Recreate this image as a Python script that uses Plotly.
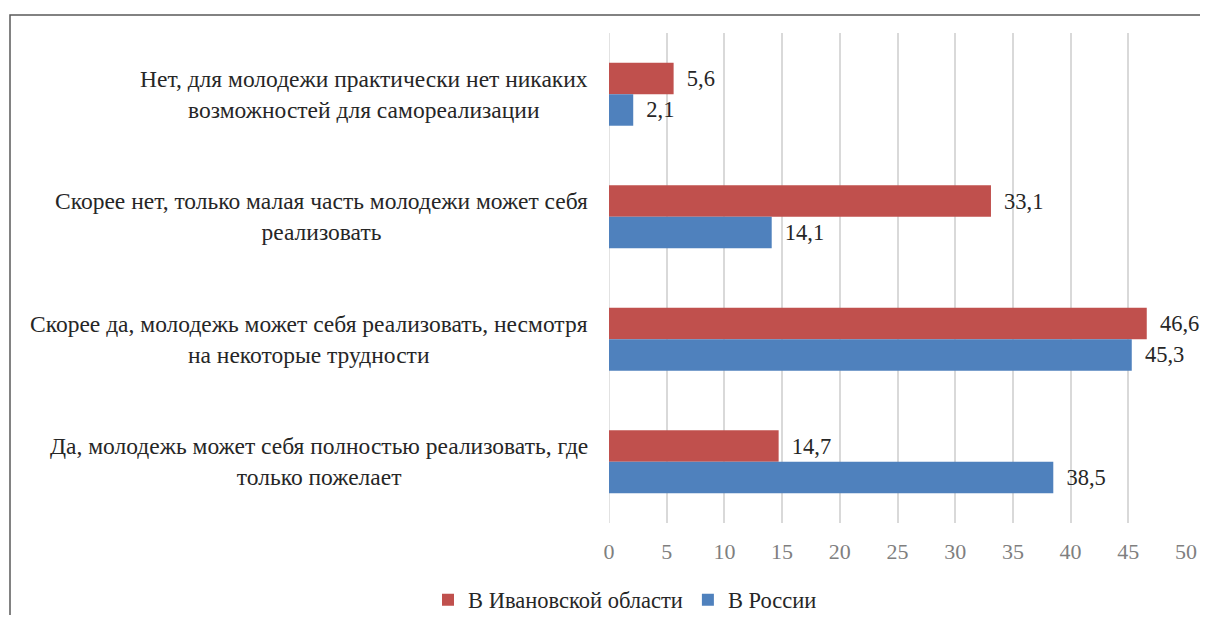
import plotly.graph_objects as go

categories = [
    "Нет, для молодежи практически нет никаких<br>возможностей для самореализации",
    "Скорее нет, только малая часть молодежи может себя<br>реализовать",
    "Скорее да, молодежь может себя реализовать, несмотря<br>на некоторые трудности",
    "Да, молодежь может себя полностью реализовать, где<br>только пожелает",
]
series_names = ["В Ивановской области", "В России"]
ivanovo = [5.6, 33.1, 46.6, 14.7]
russia = [2.1, 14.1, 45.3, 38.5]
x_ticks = [0, 5, 10, 15, 20, 25, 30, 35, 40, 45, 50]
colors = ["#C0504D", "#4F81BD"]

FONT = "Liberation Serif"

def fmt(v):
    return "\u00a0\u2009" + f"{v:.1f}".replace(".", ",")

fig = go.Figure()
for name, vals, col in zip(series_names, [ivanovo, russia], colors):
    fig.add_trace(go.Bar(
        y=categories, x=vals, name=name, orientation="h",
        marker=dict(color=col, line=dict(width=0)),
        text=[fmt(v) for v in vals], textposition="outside",
        textfont=dict(family=FONT, size=22.5, color="#262626"),
        cliponaxis=False,
    ))

OFF = 8  # page body margin
W, H = 1208 - 2 * OFF, 623 - 2 * OFF
L = 609 - OFF
T = 33 - OFF
R = W - (1186 - OFF)
B = H - (523 - OFF)
pw, ph = W - L - R, H - T - B

def px_x(p):
    return (p - OFF - L) / pw

def px_y(p):
    return (H - B - (p - OFF)) / ph

annotations = []
for c in categories:
    annotations.append(dict(
        text=c, x=px_x(590), xref="paper", xanchor="right",
        y=c, yref="y", yanchor="middle", align="center", showarrow=False,
        font=dict(family=FONT, size=23.5, color="#262626"),
    ))

fig.update_layout(
    width=W, height=H,
    margin=dict(l=L, r=R, t=T, b=B, autoexpand=False),
    paper_bgcolor="white", plot_bgcolor="white",
    barmode="group", bargap=0.486, bargroupgap=0,
    showlegend=True,
    legend=dict(orientation="h", x=px_x(625), xanchor="center",
                y=px_y(600), yanchor="middle",
                font=dict(family=FONT, size=22.5, color="#262626"),
                itemwidth=30, bgcolor="rgba(0,0,0,0)"),
    xaxis=dict(range=[0, 50], tickvals=x_ticks, showgrid=True,
               gridcolor="#D9D9D9", gridwidth=1.5, zeroline=False,
               showline=False, ticks="", automargin=False,
               tickfont=dict(family=FONT, size=22, color="#7F7F7F"),
               ticklabelstandoff=13),
    yaxis=dict(autorange="reversed", showticklabels=False, showgrid=False,
               zeroline=False, showline=False, automargin=False),
    annotations=annotations,
    shapes=[dict(type="rect", xref="paper", yref="paper",
                 x0=px_x(10), x1=px_x(1230),
                 y0=px_y(640), y1=px_y(15),
                 line=dict(color="#595959", width=1.5), layer="below")],
)
fig.add_vline(x=0, line=dict(color="#D9D9D9", width=1.5), layer="below")

fig.write_html("out.html")
